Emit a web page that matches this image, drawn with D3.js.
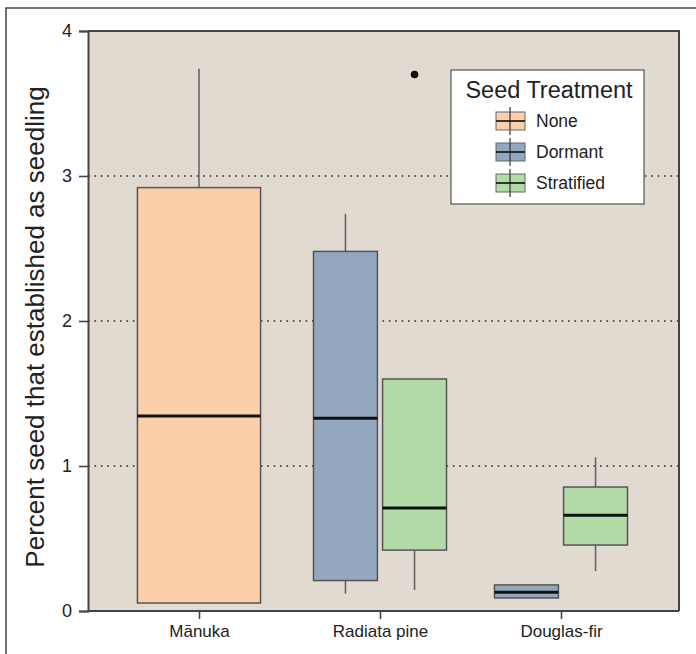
<!DOCTYPE html>
<html><head><meta charset="utf-8">
<script src="https://cdn.jsdelivr.net/npm/d3@7"></script>
<style>body{margin:0;background:#fff}svg{display:block}text{font-family:"Liberation Sans",Arial,sans-serif}</style>
</head><body>
<svg id="c" width="696" height="654"></svg>
<script>
const species = ["Mānuka", "Radiata pine", "Douglas-fir"];
const treatments = ["None", "Dormant", "Stratified"];
const yTicks = [0, 1, 2, 3, 4];
const gridTicks = [1, 2, 3];
// per box: species, treatment, lower whisker, q1, median, q3, upper whisker
const boxSpecies   = ["Mānuka", "Radiata pine", "Radiata pine", "Douglas-fir", "Douglas-fir"];
const boxTreatment = ["None", "Dormant", "Stratified", "Dormant", "Stratified"];
const boxLow    = [0.055, 0.12, 0.145, 0.09, 0.275];
const boxQ1     = [0.055, 0.21, 0.42, 0.09, 0.455];
const boxMedian = [1.345, 1.33, 0.71, 0.13, 0.66];
const boxQ3     = [2.92, 2.48, 1.60, 0.18, 0.855];
const boxHigh   = [3.74, 2.74, 1.60, 0.18, 1.06];
const outlierSpecies = ["Radiata pine"];
const outlierTreatment = ["Stratified"];
const outlierValue = [3.70];

const colors = {"None": "#fbcfa9", "Dormant": "#93a8bf", "Stratified": "#b2dba8"};

const svg = d3.select("#c");
const L = 88, R = 679, T = 31, B = 611;

// outer frame
svg.append("path").attr("d", "M6,654 V8 H696").attr("fill", "none").attr("stroke", "#444").attr("stroke-width", 1.5);

svg.append("rect").attr("x", L).attr("y", T).attr("width", R - L).attr("height", B - T).attr("fill", "#e1dad0");

const y = d3.scaleLinear().domain([0, 4]).range([B, T]);
const x = d3.scalePoint().domain(species).range([199, 561]);

// grid
svg.append("g").selectAll("line").data(gridTicks).join("line")
  .attr("x1", L).attr("x2", R).attr("y1", d => y(d)).attr("y2", d => y(d))
  .attr("stroke", "#333").attr("stroke-width", 1.7).attr("stroke-dasharray", "1.7,4.7");

const boxes = boxSpecies.map((s, i) => ({s, t: boxTreatment[i], lo: boxLow[i], q1: boxQ1[i], med: boxMedian[i], q3: boxQ3[i], hi: boxHigh[i]}));
const groupW = 133;
function inner(s) {
  const present = treatments.filter(t => boxes.some(b => b.s === s && b.t === t));
  const sc = d3.scaleBand().domain(present).range([x(s) - groupW / 2, x(s) + groupW / 2]);
  return present.length > 1 ? sc.paddingInner(0.075) : sc.paddingOuter(0.04);
}

const g = svg.append("g");
boxes.forEach(b => {
  const sc = inner(b.s);
  const x0 = sc(b.t), w = sc.bandwidth(), cx = x0 + w / 2;
  if (b.hi > b.q3) g.append("line").attr("x1", cx).attr("x2", cx).attr("y1", y(b.q3)).attr("y2", y(b.hi)).attr("stroke", "#666").attr("stroke-width", 1.6);
  if (b.lo < b.q1) g.append("line").attr("x1", cx).attr("x2", cx).attr("y1", y(b.q1)).attr("y2", y(b.lo)).attr("stroke", "#666").attr("stroke-width", 1.6);
  g.append("rect").attr("x", x0).attr("y", y(b.q3)).attr("width", w).attr("height", y(b.q1) - y(b.q3))
    .attr("fill", colors[b.t]).attr("stroke", "#555").attr("stroke-width", 1.5);
  g.append("line").attr("x1", x0).attr("x2", x0 + w).attr("y1", y(b.med)).attr("y2", y(b.med)).attr("stroke", "#111").attr("stroke-width", 3);
});
outlierValue.forEach((v, i) => {
  const sc = inner(outlierSpecies[i]);
  g.append("circle").attr("cx", sc(outlierTreatment[i]) + sc.bandwidth() / 2).attr("cy", y(v)).attr("r", 3.8).attr("fill", "#111");
});

// plot border top/right
svg.append("path").attr("d", `M${L},${T} H${R} V${B}`).attr("fill", "none").attr("stroke", "#444").attr("stroke-width", 2);

// y axis
const ya = svg.append("g").attr("transform", `translate(${L},0)`)
  .call(d3.axisLeft(y).tickValues(yTicks).tickFormat(d3.format("d")).tickSize(9).tickPadding(7));
ya.select(".domain").attr("stroke", "#444").attr("stroke-width", 2);
ya.selectAll(".tick line").attr("stroke", "#444").attr("stroke-width", 1.6);
ya.selectAll(".tick text").attr("font-size", 18).attr("fill", "#222").style("font-family", "Liberation Sans, Arial, sans-serif");

// x axis
const xa = svg.append("g").attr("transform", `translate(0,${B})`)
  .call(d3.axisBottom(x).tickSize(8).tickPadding(6).tickSizeOuter(0));
xa.select(".domain").attr("d", `M${L},0H${R}`).attr("stroke", "#444").attr("stroke-width", 2);
xa.selectAll(".tick line").attr("stroke", "#444").attr("stroke-width", 1.6);
xa.selectAll(".tick text").attr("font-size", 17).attr("fill", "#222").style("font-family", "Liberation Sans, Arial, sans-serif");

// y title
svg.append("text").attr("transform", `translate(44,${(T + B) / 2 + 6}) rotate(-90)`)
  .attr("text-anchor", "middle").attr("font-size", 26).attr("fill", "#222")
  .text("Percent seed that established as seedling");

// legend
const lg = svg.append("g");
lg.append("rect").attr("x", 451).attr("y", 70).attr("width", 193).attr("height", 134).attr("fill", "#fff").attr("stroke", "#555").attr("stroke-width", 1.2);
lg.append("text").attr("x", 549).attr("y", 98).attr("text-anchor", "middle").attr("font-size", 23.5).attr("fill", "#222").text("Seed Treatment");
treatments.forEach((t, i) => {
  const cy = 121 + i * 31;
  lg.append("line").attr("x1", 510).attr("x2", 510).attr("y1", cy - 14).attr("y2", cy + 14).attr("stroke", "#333").attr("stroke-width", 1.2);
  lg.append("rect").attr("x", 496).attr("y", cy - 9).attr("width", 29).attr("height", 18).attr("fill", colors[t]).attr("stroke", "#666").attr("stroke-width", 1);
  lg.append("line").attr("x1", 510).attr("x2", 510).attr("y1", cy - 9).attr("y2", cy + 9).attr("stroke", "#333").attr("stroke-width", 1.2);
  lg.append("line").attr("x1", 496).attr("x2", 525).attr("y1", cy).attr("y2", cy).attr("stroke", "#111").attr("stroke-width", 1.6);
  lg.append("text").attr("x", 536).attr("y", cy + 6).attr("font-size", 17.5).attr("fill", "#222").text(t);
});
</script>
</body></html>
